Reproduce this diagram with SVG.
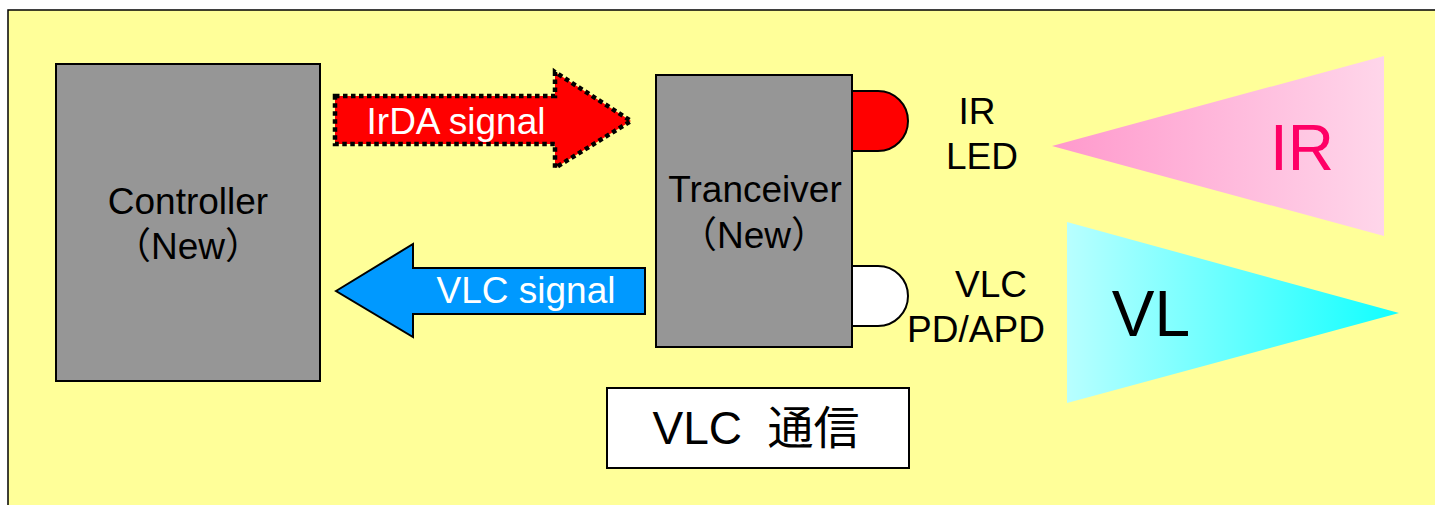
<svg xmlns="http://www.w3.org/2000/svg" width="1435" height="505" viewBox="0 0 1435 505">
<style>
text{font-family:"Liberation Sans","Noto Sans CJK JP",sans-serif;}
.lbl{font-size:37px;fill:#000;text-anchor:middle;}
.wl{font-size:37px;fill:#fff;text-anchor:middle;}
.box{fill:#969696;stroke:#000;stroke-width:2;}
</style>
<defs>
<linearGradient id="gIR" x1="0" y1="0" x2="1" y2="0">
<stop offset="0" stop-color="#FF99CC"/>
<stop offset="1" stop-color="#FFD6EA"/>
</linearGradient>
<linearGradient id="gVL" x1="0" y1="0" x2="1" y2="0">
<stop offset="0" stop-color="#B8FFFF"/>
<stop offset="1" stop-color="#10FFFF"/>
</linearGradient>
</defs>
<rect x="0" y="0" width="1435" height="505" fill="#fff"/>
<rect id="frame" x="8" y="10" width="1440" height="510" fill="#FFFF99" stroke="#000" stroke-width="1.5"/>
<g id="controller">
<rect class="box" x="56" y="64" width="264" height="317"/>
<text class="lbl" x="188" y="214">Controller</text>
<text class="lbl" x="188" y="259">（New）</text>
</g>
<g id="tranceiver">
<rect class="box" x="656" y="75" width="196" height="272"/>
<text class="lbl" x="755" y="202">Tranceiver</text>
<text class="lbl" x="754" y="248">（New）</text>
</g>
<g id="irled">
<path d="M852,91 H878 A30,30 0 0 1 878,151 H852 Z" fill="#FF0000" stroke="#000" stroke-width="2"/>
<text class="lbl" x="977" y="124">IR</text>
<text class="lbl" x="982" y="169">LED</text>
</g>
<g id="pd">
<path d="M852,266 H878 A30,30 0 0 1 878,326 H852 Z" fill="#FFFFFF" stroke="#000" stroke-width="2"/>
<text class="lbl" x="991" y="297">VLC</text>
<text class="lbl" x="976" y="342">PD/APD</text>
</g>
<g id="ir-beam">
<polygon points="1052,146 1384,56 1384,236" fill="url(#gIR)"/>
<text x="1302" y="170" font-size="64" fill="#FF0066" text-anchor="middle">IR</text>
</g>
<g id="vl-beam">
<polygon points="1067,222 1399,313 1067,403" fill="url(#gVL)"/>
<text x="1151" y="336" font-size="64" fill="#000" text-anchor="middle">VL</text>
</g>
<g id="label-vlc">
<rect x="607" y="388" width="302" height="80" fill="#fff" stroke="#000" stroke-width="2"/>
<text x="756" y="444" font-size="46" fill="#000" text-anchor="middle" style="white-space:pre">VLC  通信</text>
</g>
<g id="connectors">
<g id="irda-arrow">
<polygon points="335,96 555,96 555,72 631,121 555,168 555,144 335,144" fill="#FF0000" stroke="#000" stroke-width="4.5" stroke-dasharray="4.5 3.5"/>
<text class="wl" x="456" y="134">IrDA signal</text>
</g>
<g id="vlc-arrow">
<polygon points="336,291 413,244 413,268 645,268 645,314 413,314 413,337" fill="#0099FF" stroke="#000" stroke-width="2"/>
<text class="wl" x="526" y="303">VLC signal</text>
</g>
</g>
</svg>
